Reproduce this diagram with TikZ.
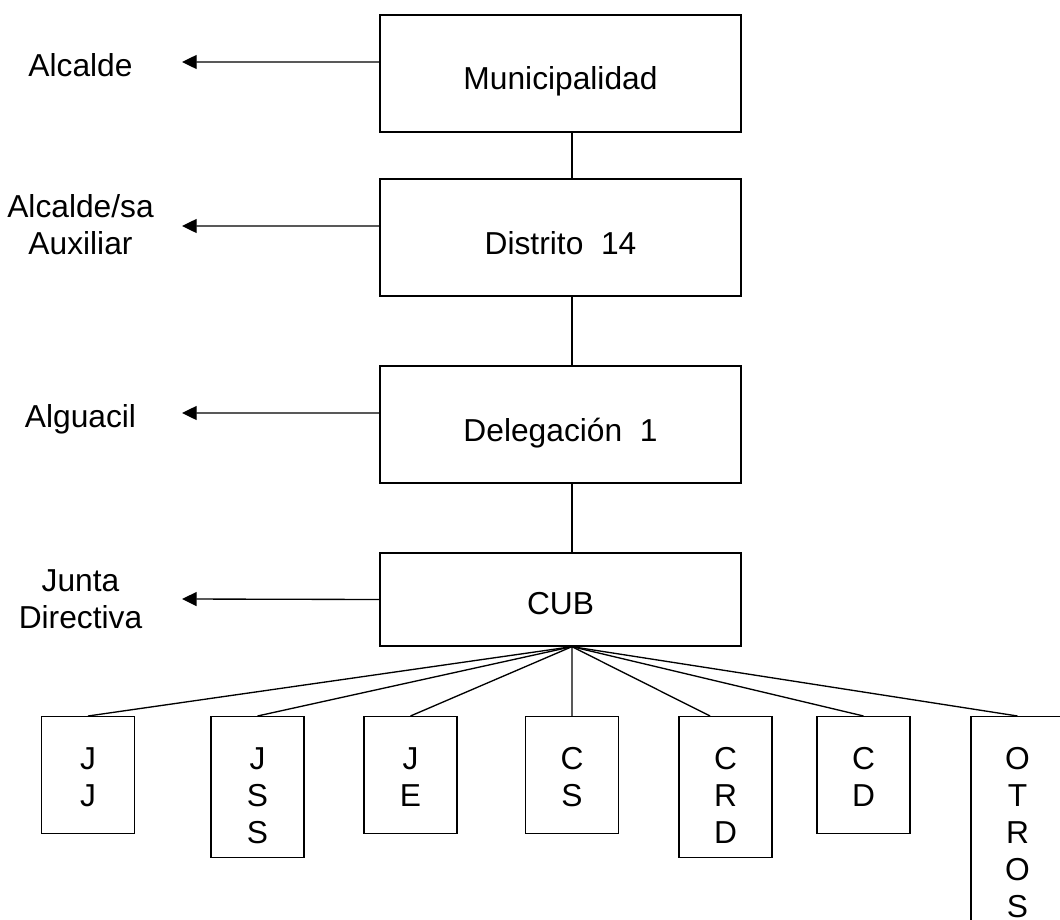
\documentclass[tikz,border=0pt]{standalone}
\usepackage{fontspec}
\setmainfont{Liberation Sans}
\usetikzlibrary{arrows.meta}
\tikzstyle{level}=[rectangle, draw=black, line width=1pt, minimum width=270.75pt, minimum height=87.75pt, text height=24.75pt, text depth=0pt, inner sep=0pt]
\tikzstyle{unit}=[rectangle, draw=black, line width=1pt, minimum width=69.75pt, anchor=north, inner sep=0pt]
\tikzstyle{letters}=[anchor=north, align=center, inner sep=0pt]
\tikzstyle{role}=[align=center, inner sep=0pt]
\tikzstyle{link}=[line width=1pt]
\tikzstyle{pointer}=[line width=1pt, -{Triangle[length=11pt, width=10.5pt]}]

\begin{document}
\begin{tikzpicture}[x=0.75pt, y=-0.75pt, font=\fontsize{23.8}{27.75}\selectfont]
    \useasboundingbox (0,0) rectangle (1060,920);
    \clip (0,0) rectangle (1060,920);

    \node (muni) at (560.5, 73.5) [level] {Municipalidad};
    \node (dist) at (560.5, 237.5) [level] {Distrito~~14};
    \node (dele) at (560.5, 424.5) [level] {Delegación~~1};
    \node (cub)  at (560.5, 599.5) [level, minimum height=69.75pt, text height=21.75pt] {CUB};

    \node (alcalde)  at (80.5, 77)  [role, anchor=base] {Alcalde};
    \node (auxiliar) at (80.5, 225) [role] {Alcalde/sa\\Auxiliar};
    \node (alguacil) at (80.5, 427) [role, anchor=base] {Alguacil};
    \node (junta)    at (80.5, 599) [role] {Junta\\Directiva};

    \coordinate (tmuni) at (182, 62);
    \coordinate (tdist) at (182, 226);
    \coordinate (tdele) at (182, 413);
    \coordinate (tcub)  at (182, 599);

    \draw [pointer] ([yshift=8.6pt]muni.west) -- (tmuni);
    \draw [pointer] ([yshift=8.6pt]dist.west) -- (tdist);
    \draw [pointer] ([yshift=8.6pt]dele.west) -- (tdele);
    \draw [pointer] (cub.west) -- (tcub);

    \draw ([xshift=8.6pt]muni.south) -- ([xshift=8.6pt]dist.north) [link];
    \draw ([xshift=8.6pt]dist.south) -- ([xshift=8.6pt]dele.north) [link];
    \draw ([xshift=8.6pt]dele.south) -- ([xshift=8.6pt]cub.north) [link];

    \node (jj)    at (88, 716)     [unit, minimum height=87.75pt] {};
    \node (jss)   at (257.5, 716)  [unit, minimum height=105.75pt] {};
    \node (je)    at (410.5, 716)  [unit, minimum height=87.75pt] {};
    \node (cs)    at (572, 716)    [unit, minimum height=87.75pt] {};
    \node (crd)   at (725.5, 716)  [unit, minimum height=105.75pt] {};
    \node (cd)    at (863.5, 716)  [unit, minimum height=87.75pt] {};
    \node (otros) at (1017.5, 716) [unit, minimum height=180pt] {};

    \node (jjtext)    at ([yshift=-23.25pt]jj.north)    [letters] {J\\J};
    \node (jsstext)   at ([yshift=-23.25pt]jss.north)   [letters] {J\\S\\S};
    \node (jetext)    at ([yshift=-23.25pt]je.north)    [letters] {J\\E};
    \node (cstext)    at ([yshift=-23.25pt]cs.north)    [letters] {C\\S};
    \node (crdtext)   at ([yshift=-23.25pt]crd.north)   [letters] {C\\R\\D};
    \node (cdtext)    at ([yshift=-23.25pt]cd.north)    [letters] {C\\D};
    \node (otrostext) at ([yshift=-23.25pt]otros.north) [letters] {O\\T\\R\\O\\S};

    \coordinate (hub) at ([xshift=8.6pt]cub.south);
    \draw (hub) -- (jj.north) [link];
    \draw (hub) -- (jss.north) [link];
    \draw (hub) -- (je.north) [link];
    \draw (hub) -- (cs.north) [link];
    \draw (hub) -- ([xshift=-11.6pt]crd.north) [link];
    \draw (hub) -- (cd.north) [link];
    \draw (hub) -- (otros.north) [link];
\end{tikzpicture}
\end{document}
